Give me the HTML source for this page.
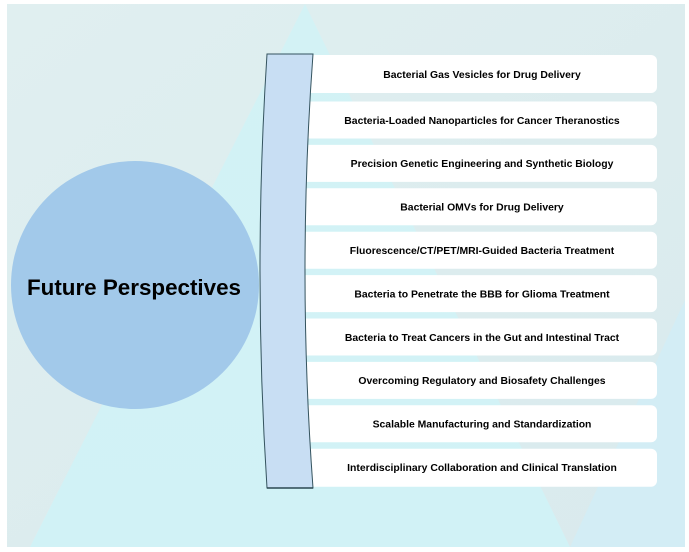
<!DOCTYPE html>
<html>
<head>
<meta charset="utf-8">
<style>
  html, body { margin:0; padding:0; background:#ffffff; }
  body { width:689px; height:552px; overflow:hidden; }
  svg { display:block; }
  text { font-family: "Liberation Sans", Arial, sans-serif; font-weight:bold; fill:#000; }
</style>
</head>
<body>
<svg width="689" height="552" viewBox="0 0 689 552" xmlns="http://www.w3.org/2000/svg">
  <defs>
    <linearGradient id="bg" x1="0" y1="0" x2="1" y2="1">
      <stop offset="0" stop-color="#e0eff0"/>
      <stop offset="1" stop-color="#d9eaed"/>
    </linearGradient>
    <linearGradient id="tri" x1="0" y1="0" x2="0" y2="1">
      <stop offset="0" stop-color="#d3f2f5"/>
      <stop offset="1" stop-color="#d1f2f6"/>
    </linearGradient>
  </defs>
  <!-- panel -->
  <rect x="7" y="4" width="678" height="543" fill="url(#bg)"/>
  <polygon points="305,4 30,547 570,547" fill="url(#tri)"/>
  <polygon points="570,547 685,547 685,300" fill="#d1eef6" opacity="0.8"/>

  <!-- circle -->
  <circle cx="135" cy="285" r="124" fill="#a2c9ea"/>
  <text x="134" y="295" font-size="22.4" text-anchor="middle">Future Perspectives</text>

  <!-- boxes -->
  <g fill="#ffffff">
    <rect x="300" y="55" width="357" height="38" rx="6"/>
    <rect x="300" y="101.5" width="357" height="37" rx="6"/>
    <rect x="300" y="144.9" width="357" height="37" rx="6"/>
    <rect x="300" y="188.3" width="357" height="37" rx="6"/>
    <rect x="300" y="231.7" width="357" height="37" rx="6"/>
    <rect x="300" y="275.1" width="357" height="37" rx="6"/>
    <rect x="300" y="318.5" width="357" height="37" rx="6"/>
    <rect x="300" y="361.9" width="357" height="37" rx="6"/>
    <rect x="300" y="405.3" width="357" height="37" rx="6"/>
    <rect x="300" y="448.7" width="357" height="38" rx="6"/>
  </g>

  <!-- bracket -->
  <path d="M267,54 L313,54 Q297,271 313,488 L267,488 Q253,271 267,54 Z" fill="#c8def3" stroke="#34535e" stroke-width="1"/>
  <path d="M267,488 L313,488" stroke="#2a4650" stroke-width="1.6"/>

  <!-- labels -->
  <g font-size="10.4" text-anchor="middle">
    <text x="482" y="77.8">Bacterial Gas Vesicles for Drug Delivery</text>
    <text x="482" y="123.8">Bacteria-Loaded Nanoparticles for Cancer Theranostics</text>
    <text x="482" y="167.2">Precision Genetic Engineering and Synthetic Biology</text>
    <text x="482" y="210.6">Bacterial OMVs for Drug Delivery</text>
    <text x="482" y="254.0">Fluorescence/CT/PET/MRI-Guided Bacteria Treatment</text>
    <text x="482" y="297.4">Bacteria to Penetrate the BBB for Glioma Treatment</text>
    <text x="482" y="340.8">Bacteria to Treat Cancers in the Gut and Intestinal Tract</text>
    <text x="482" y="384.2">Overcoming Regulatory and Biosafety Challenges</text>
    <text x="482" y="427.6">Scalable Manufacturing and Standardization</text>
    <text x="482" y="471.0">Interdisciplinary Collaboration and Clinical Translation</text>
  </g>
</svg>
</body>
</html>
